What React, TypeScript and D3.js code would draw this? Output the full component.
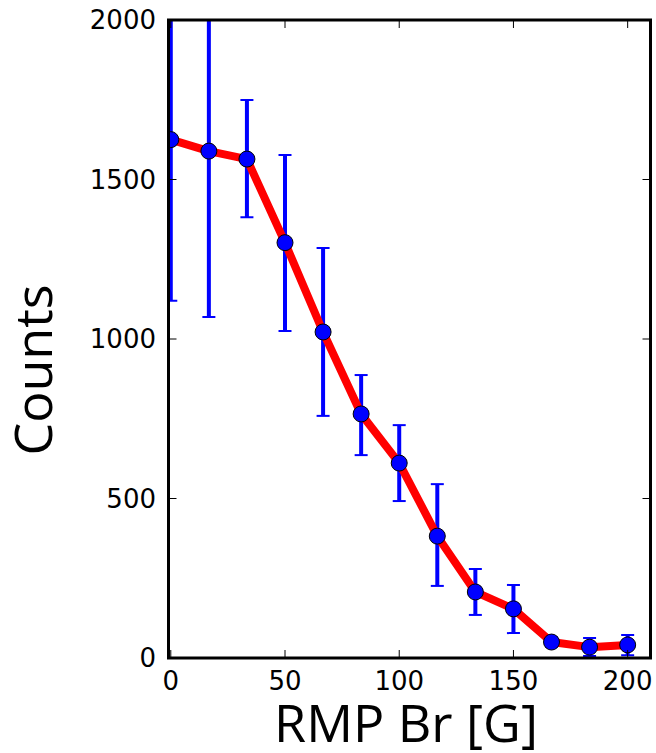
import React from "react";
import * as d3 from "d3";

const xValues = [0, 16.67, 33.33, 50, 66.67, 83.33, 100, 116.67, 133.33, 150, 166.67, 183.33, 200];
const counts = [1625, 1589, 1564, 1302, 1022, 765, 611, 382, 207, 154, 50, 34, 41];
const errLow = [1120, 1069, 1382, 1025, 759, 636, 492, 226, 135, 78, 35, 6, 9];
const errHigh = [2130, 2110, 1749, 1577, 1285, 887, 730, 545, 279, 229, 65, 63, 72];
const xTicks = [0, 50, 100, 150, 200];
const yTicks = [0, 500, 1000, 1500, 2000];

const W = 656, H = 753;
const L = 168.5, R = 650.5, T = 20, B = 658;

export default function App() {
  const x = d3.scaleLinear().domain([-1, 210]).range([L, R]);
  const y = d3.scaleLinear().domain([0, 2000]).range([B, T]);
  const line = d3.line<number>().x((_, i) => x(xValues[i])).y((d) => y(d));
  const tick = 8;
  const tickFont = "'DejaVu Sans', sans-serif";
  const labelFont = "'Open Sans', sans-serif";
  return (
    <svg width={W} height={H} style={{ position: "absolute", left: 0, top: 0, background: "#fff" }}>
      <defs>
        <clipPath id="clip">
          <rect x={L} y={T} width={R - L} height={B - T} />
        </clipPath>
      </defs>
      <rect x={0} y={0} width={W} height={H} fill="#fff" />
      <g clipPath="url(#clip)">
        {xValues.map((xv, i) => (
          <g key={"e" + i} stroke="#0000ff">
            <line x1={x(xv)} x2={x(xv)} y1={y(errLow[i])} y2={y(errHigh[i])} strokeWidth={4} />
            <line x1={x(xv) - 6.5} x2={x(xv) + 6.5} y1={y(errLow[i])} y2={y(errLow[i])} strokeWidth={2} />
            <line x1={x(xv) - 6.5} x2={x(xv) + 6.5} y1={y(errHigh[i])} y2={y(errHigh[i])} strokeWidth={2} />
          </g>
        ))}
        <path d={line(counts) || ""} fill="none" stroke="#ff0000" strokeWidth={8} strokeLinejoin="round" />
        {xValues.map((xv, i) => (
          <circle key={"c" + i} cx={x(xv)} cy={y(counts[i])} r={8} fill="#0000ff" stroke="#000" strokeWidth={1} />
        ))}
      </g>
      {xTicks.map((t) => (
        <g key={"xt" + t}>
          <line x1={x(t)} x2={x(t)} y1={B} y2={B - tick} stroke="#000" strokeWidth={1} />
          <line x1={x(t)} x2={x(t)} y1={T} y2={T + tick} stroke="#000" strokeWidth={1} />
          <text x={x(t)} y={690} textAnchor="middle" fontFamily={tickFont} fontSize={26} fill="#000">{t}</text>
        </g>
      ))}
      {yTicks.map((t) => (
        <g key={"yt" + t}>
          <line x1={L} x2={L + tick} y1={y(t)} y2={y(t)} stroke="#000" strokeWidth={1} />
          <line x1={R} x2={R - tick} y1={y(t)} y2={y(t)} stroke="#000" strokeWidth={1} />
          <text x={156} y={y(t)} dy="0.36em" textAnchor="end" fontFamily={tickFont} fontSize={26} fill="#000">{t}</text>
        </g>
      ))}
      <rect x={L} y={T} width={R - L} height={B - T} fill="none" stroke="#000" strokeWidth={3} />
      <text x={406} y={742} textAnchor="middle" fontFamily={labelFont} fontSize={52} fill="#000">RMP Br [G]</text>
      <text transform={`translate(52, 370) rotate(-90)`} textAnchor="middle" fontFamily={labelFont} fontSize={52} fill="#000">Counts</text>
    </svg>
  );
}
